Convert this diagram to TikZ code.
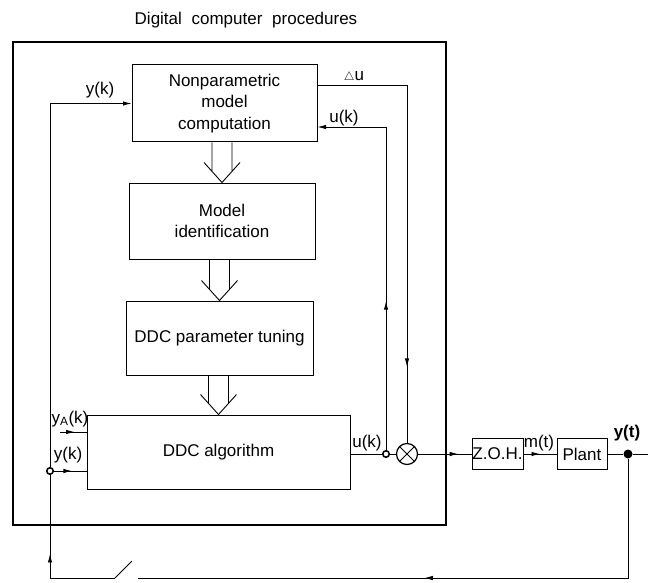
\documentclass[tikz,border=0pt]{standalone}
\usepackage{fontspec}
\setmainfont{Liberation Sans}
\usetikzlibrary{arrows.meta,calc,decorations.markings}

\tikzset{
  block/.style={draw, line width=1pt, inner sep=0pt, align=center, font=\fontsize{17}{21.5}\selectfont},
  lbl/.style={inner sep=0pt, font=\fontsize{17}{20}\selectfont},
  wire/.style={line width=0.9pt},
  arr/.style={-{Latex[length=8.5pt,width=4.5pt]}},
  midarrow/.style={postaction={decorate}, decoration={markings, mark=at position #1 with {\arrow{Latex[length=8.5pt,width=4.5pt]}}}},
  midarrow/.default=0.5,
  ring/.style={circle, draw, line width=1.6pt, fill=white, inner sep=0pt, minimum size=6.5pt},
  dot/.style={circle, fill, inner sep=0pt, minimum size=9pt},
}

% hollow double-line arrow between two stacked blocks
\newcommand{\fatarrow}[2]{%
  \draw[wire] ($(#2.north |- #1.south)+(-10,0)$) -- ($(#2.north)+(-10,-11)$)
              ($(#2.north |- #1.south)+(10,0)$) -- ($(#2.north)+(10,-11)$)
              ($(#2.north)+(-18,-20)$) -- (#2.north) -- ($(#2.north)+(18,-20)$);}

\begin{document}
\begin{tikzpicture}[x=1pt, y=-1pt]
  \useasboundingbox (0,0) rectangle (648,583);

  \node[lbl] (title) at (246,20) {Digital\hspace{5pt} computer\hspace{5pt} procedures};
  \draw[line width=2pt] (13,42) rectangle (446,525);

  % blocks
  \node[block, minimum width=185pt, minimum height=77pt] (npm) at (224.5,103.5) {Nonparametric\\model\\computation};
  \node[block, minimum width=186pt, minimum height=76pt] (modid) at (222,221) {Model\\identification};
  \node[block, minimum width=187pt, minimum height=74pt] (tune) at (219.5,338) {DDC parameter tuning};
  \node[block, minimum width=263pt, minimum height=74pt] (ddc) at (218.5,452) {DDC algorithm};
  \node[block, minimum width=51pt, minimum height=31pt] (zoh) at (497.5,454) {Z.O.H.};
  \node[block, minimum width=50pt, minimum height=31pt] (plant) at (582,454) {Plant};
  \node[circle, draw, line width=1.2pt, minimum size=21pt, inner sep=0pt] (mult) at (407,454) {};
  \draw[wire] (mult.north west) -- (mult.south east) (mult.north east) -- (mult.south west);

  \fatarrow{npm}{modid}
  \fatarrow{modid}{tune}
  \fatarrow{tune}{ddc}

  % junctions and free ends
  \coordinate (ulev) at (0,127);
  \coordinate (dlev) at (0,85);
  \node[ring] (jy) at (50,471) {};
  \node[ring] (uk) at (386,454) {};
  \node[dot] (yt) at (628,454) {};
  \coordinate (yend) at (648,454);
  \coordinate (yain) at (60,432);
  \coordinate (swl) at (115,578);
  \coordinate (swr) at (138,578);
  \coordinate (swtip) at (132,561);

  % connectors
  \draw[wire, arr] (jy) |- (npm.west);
  \draw[wire, midarrow=0.55] (jy) -- (jy -| ddc.west);
  \draw[wire, midarrow=0.55] (yain) -- (yain -| ddc.west);
  \draw[wire] (ddc.east |- uk) -- (uk) -- (mult);
  \draw[wire, midarrow=0.75] (mult) -- (zoh);
  \draw[wire, midarrow=0.5] (zoh) -- (plant);
  \draw[wire] (plant) -- (yt) -- (yend);
  \draw[wire, arr, midarrow=0.38] (uk) |- (npm.east |- ulev);
  \draw[wire, midarrow=0.83] (npm.east |- dlev) -| (mult);
  \draw[wire, midarrow=0.53] (yt) |- (swr);
  \draw[wire, midarrow=0.53] (swl) -| (jy);
  \draw[wire] (swl) -- (swtip);

  % labels
  \node[lbl] (lyk) at (100,90) {y(k)};
  \node[lbl] (ldu) at (354,77) {$\scriptstyle\triangle$u};
  \node[lbl] (luk) at (344,118) {u(k)};
  \node[lbl] (lya) at (70,419) {y\textsubscript{A}(k)};
  \node[lbl] (lyk2) at (68,455) {y(k)};
  \node[lbl] (luk2) at (367,443) {u(k)};
  \node[lbl] (lmt) at (539,443) {m(t)};
  \node[lbl, font=\fontsize{17}{20}\selectfont\bfseries] (lyt) at (627,433) {y(t)};
\end{tikzpicture}
\end{document}
